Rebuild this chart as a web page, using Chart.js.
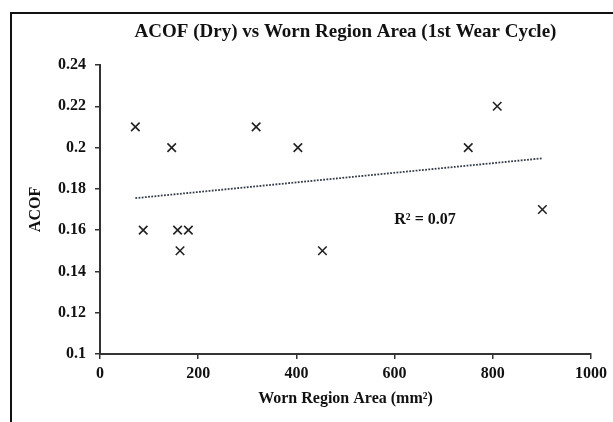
<!DOCTYPE html>
<html>
<head>
<meta charset="utf-8">
<script src="https://cdn.jsdelivr.net/npm/chart.js@4/dist/chart.umd.min.js"></script>
<style>
  body { margin: 0; background: #fff; }
  #wrap { position: relative; width: 613px; height: 422px; overflow: hidden; }
  #frame { position: absolute; left: 10px; top: 12px; width: 700px; height: 500px; border: 2px solid #111; }
  #grafico { position: absolute; left: 0; top: 0; }
</style>
</head>
<body>
<div id="wrap">
  <div id="frame"></div>
  <canvas id="grafico" width="613" height="422"></canvas>
</div>
<script>
// worn region area (mm2) and ACOF
const areaValues = [72, 88, 146, 158, 163, 180, 318, 403, 453, 750, 809, 901];
const acofValues = [0.21, 0.16, 0.20, 0.16, 0.15, 0.16, 0.21, 0.20, 0.15, 0.20, 0.22, 0.17];

// linear trendline end points
const trendX = [72, 901];
const trendY = [0.1755, 0.1948];

const xTicks = [0, 200, 400, 600, 800, 1000];
const yTicks = [0.1, 0.12, 0.14, 0.16, 0.18, 0.2, 0.22, 0.24];

const r2Text = 'R² = 0.07';
const r2At = [662, 0.165];

const fonte = 'Liberation Serif, Times New Roman, serif';
const eixoCor = '#333';

const r2Plugin = {
    id: 'r2Label',
    afterDatasetsDraw(chart) {
        const ctx = chart.ctx;
        const x = chart.scales.x.getPixelForValue(r2At[0]);
        const y = chart.scales.y.getPixelForValue(r2At[1]);
        ctx.save();
        ctx.font = 'bold 16px ' + fonte;
        ctx.fillStyle = '#111';
        ctx.textAlign = 'center';
        ctx.textBaseline = 'middle';
        ctx.fillText(r2Text, x, y);
        ctx.restore();
    }
};

const pontos = areaValues.map((a, i) => ({ x: a, y: acofValues[i] }));
const linha = trendX.map((a, i) => ({ x: a, y: trendY[i] }));

new Chart(document.getElementById('grafico').getContext('2d'), {
    type: 'scatter',
    data: {
        datasets: [{
            label: 'ACOF',
            data: pontos,
            pointStyle: 'crossRot',
            pointRadius: 6,
            pointBorderWidth: 1.6,
            borderColor: '#222',
            backgroundColor: '#222'
        }, {
            label: 'Trend',
            type: 'line',
            data: linha,
            borderColor: '#333a48',
            borderWidth: 1.8,
            borderDash: [1.8, 1.4],
            pointRadius: 0,
            fill: false
        }]
    },
    options: {
        responsive: false,
        animation: false,
        layout: { padding: { left: 0, right: 22, top: 0, bottom: 0 } },
        plugins: {
            legend: { display: false },
            tooltip: { enabled: false },
            title: {
                display: true,
                fullSize: false,
                text: 'ACOF (Dry) vs Worn Region Area (1st Wear Cycle)',
                color: '#111',
                font: { family: fonte, size: 19, weight: 'bold' },
                padding: { top: 21, bottom: 21.2 }
            }
        },
        scales: {
            x: {
                type: 'linear',
                min: 0,
                max: 1000,
                afterBuildTicks: s => { s.ticks = xTicks.map(v => ({ value: v })); },
                afterFit: s => { s.height = 68; },
                grid: { drawOnChartArea: false, drawTicks: true, tickLength: 5, color: eixoCor, lineWidth: 1.5 },
                border: { display: true, color: eixoCor, width: 2 },
                ticks: {
                    color: '#111',
                    padding: 5,
                    maxRotation: 0,
                    font: { family: fonte, size: 16, weight: 'bold' },
                    callback: v => String(v)
                },
                title: {
                    display: true,
                    text: 'Worn Region Area (mm²)',
                    color: '#111',
                    font: { family: fonte, size: 16, weight: 'bold' },
                    padding: { top: 0, bottom: 14 }
                }
            },
            y: {
                min: 0.1,
                max: 0.24,
                afterBuildTicks: s => { s.ticks = yTicks.map(v => ({ value: v })); },
                afterFit: s => { s.width = 100; },
                grid: { drawOnChartArea: false, drawTicks: true, tickLength: 5, color: eixoCor, lineWidth: 1.5 },
                border: { display: true, color: eixoCor, width: 2 },
                ticks: {
                    color: '#111',
                    padding: 9,
                    font: { family: fonte, size: 16, weight: 'bold' },
                    callback: v => String(+v.toFixed(2))
                },
                title: {
                    display: true,
                    text: 'ACOF',
                    color: '#111',
                    font: { family: fonte, size: 16, weight: 'bold' },
                    padding: { top: 26, bottom: 0 }
                }
            }
        }
    },
    plugins: [r2Plugin]
});
</script>
</body>
</html>
